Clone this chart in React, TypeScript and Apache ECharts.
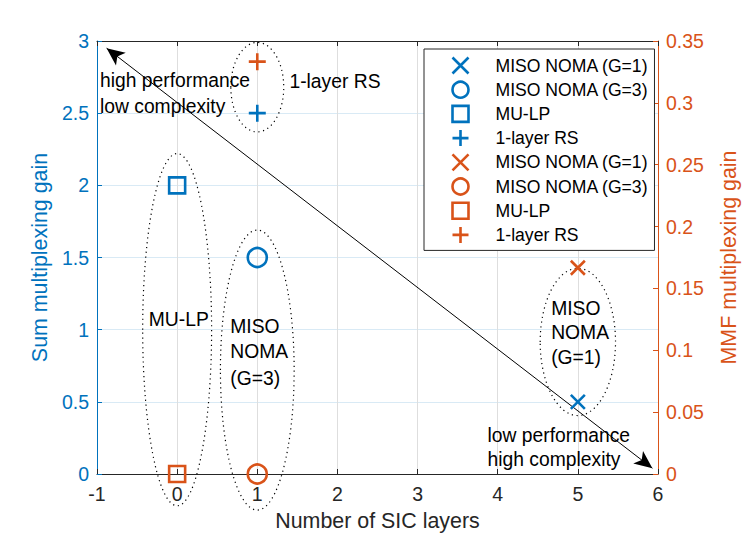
import React, { useEffect, useRef } from 'react';
import * as echarts from 'echarts';

// ---- data ----
const seriesNames = ['MISO NOMA (G=1)', 'MISO NOMA (G=3)', 'MU-LP', '1-layer RS'];
const sicLayers = [5, 1, 0, 1];
const sumGain = [0.5, 1.5, 2, 2.5];
const mmfGain = [0.1667, 0, 0, 0.3333];

// ---- annotations (data units of x / left y axis) ----
const ellipseCenters = [[0, 1.0], [1, 0.72], [1, 2.68], [5, 0.915]];
const ellipseRadii = [[0.43, 1.22], [0.46, 0.97], [0.33, 0.31], [0.47, 0.51]];
const noteTexts = ['high performance', 'low complexity', '1-layer RS', 'MU-LP', 'MISO', 'NOMA', '(G=3)', 'MISO', 'NOMA', '(G=1)', 'low performance', 'high complexity'];
const noteAnchors = [[-0.963, 2.723], [-0.963, 2.543], [1.401, 2.716], [-0.354, 1.067], [0.663, 1.021], [0.663, 0.847], [0.663, 0.665], [4.667, 1.15], [4.667, 0.977], [4.667, 0.804], [3.873, 0.27], [3.873, 0.097]];
const arrowStart = [-0.88, 2.95];
const arrowEnd = [5.93, 0.04];

const BLUE = '#0072BD';
const ORANGE = '#D95319';
const AXIS = '#262626';
const FONT = '"Liberation Sans", Arial, Helvetica, sans-serif';

const X_PATH = 'path://M0,0L10,10M10,0L0,10';
const PLUS_PATH = 'path://M5,0L5,10M0,5L10,5';
const SQUARE_PATH = 'path://M0,0L10,0L10,10L0,10Z';
const symbols = [X_PATH, 'circle', SQUARE_PATH, PLUS_PATH];
const symbolSizes = [14, 19, 16, 17];

export default function App() {
  const ref = useRef<HTMLDivElement>(null);

  useEffect(() => {
    if (!ref.current) return;
    const chart = echarts.init(ref.current, undefined, { renderer: 'svg' });

    const mkSeries = (group: 'sum' | 'mmf') =>
      seriesNames.map((n, i) => ({
        type: 'scatter',
        name: group + '|' + n,
        yAxisIndex: group === 'sum' ? 0 : 1,
        symbol: symbols[i],
        symbolSize: symbolSizes[i],
        symbolKeepAspect: true,
        itemStyle: {
          color: 'none',
          borderColor: group === 'sum' ? BLUE : ORANGE,
          borderWidth: 2.6,
          opacity: 1,
        },
        emphasis: { disabled: true },
        data: [[sicLayers[i], group === 'sum' ? sumGain[i] : mmfGain[i]]],
        z: 5,
      }));

    const series: any[] = [...mkSeries('sum'), ...mkSeries('mmf')];
    series[0].markLine = {
      silent: true,
      animation: false,
      symbol: ['arrow', 'arrow'],
      symbolSize: [12, 18],
      lineStyle: { color: '#000', width: 1, type: 'solid' },
      label: { show: false },
      emphasis: { disabled: true },
      data: [[{ coord: arrowStart }, { coord: arrowEnd }]],
    };

    const legendData = [
      ...seriesNames.map((n, i) => ({
        name: 'sum|' + n,
        icon: symbols[i],
        itemStyle: { color: 'none', borderColor: BLUE, borderWidth: 2.6 },
      })),
      ...seriesNames.map((n, i) => ({
        name: 'mmf|' + n,
        icon: symbols[i],
        itemStyle: { color: 'none', borderColor: ORANGE, borderWidth: 2.6 },
      })),
    ];

    const option: any = {
      animation: false,
      textStyle: { fontFamily: FONT },
      grid: { left: 97, right: 83, top: 41, bottom: 63, containLabel: false },
      legend: {
        orient: 'vertical',
        left: 424,
        top: 49,
        padding: [6, 6, 5, 26],
        itemWidth: 60,
        itemHeight: 16,
        itemGap: 3.2,
        symbolKeepAspect: true,
        backgroundColor: '#fff',
        borderColor: AXIS,
        borderWidth: 1,
        borderRadius: 0,
        selectedMode: false,
        data: legendData,
        formatter: (name: string) => name.split('|')[1],
        textStyle: { color: '#000', fontSize: 17.6, fontFamily: FONT },
      },
      xAxis: [
        {
          type: 'value',
          position: 'bottom',
          min: -1,
          max: 6,
          interval: 1,
          name: 'Number of SIC layers',
          nameLocation: 'middle',
          nameGap: 36,
          nameTextStyle: { color: AXIS, fontSize: 21.4, fontFamily: FONT },
          axisLine: { show: true, onZero: false, lineStyle: { color: AXIS, width: 1 } },
          axisTick: { show: true, inside: true, length: 5, lineStyle: { color: AXIS } },
          axisLabel: { color: AXIS, fontSize: 19.5, margin: 10, fontFamily: FONT },
          splitLine: { show: true, lineStyle: { color: '#dedede', width: 1 } },
        },
        {
          type: 'value',
          position: 'top',
          min: -1,
          max: 6,
          interval: 1,
          axisLine: { show: true, onZero: false, lineStyle: { color: AXIS, width: 1 } },
          axisTick: { show: true, inside: true, length: 5, lineStyle: { color: AXIS } },
          axisLabel: { show: false },
          splitLine: { show: false },
        },
      ],
      yAxis: [
        {
          type: 'value',
          position: 'left',
          min: 0,
          max: 3,
          interval: 0.5,
          name: 'Sum multiplexing gain',
          nameLocation: 'middle',
          nameGap: 45,
          nameTextStyle: { color: BLUE, fontSize: 21.4, fontFamily: FONT },
          axisLine: { show: true, onZero: false, lineStyle: { color: BLUE, width: 1 } },
          axisTick: { show: true, inside: true, length: 5, lineStyle: { color: BLUE } },
          axisLabel: { color: BLUE, fontSize: 19.5, margin: 8, fontFamily: FONT },
          splitLine: { show: true, lineStyle: { color: '#d9eaf5', width: 1 } },
        },
        {
          type: 'value',
          position: 'right',
          min: 0,
          max: 0.35,
          interval: 0.05,
          name: 'MMF multiplexing gain',
          nameLocation: 'middle',
          nameGap: 60,
          nameTextStyle: { color: ORANGE, fontSize: 21.4, fontFamily: FONT },
          axisLine: { show: true, onZero: false, lineStyle: { color: ORANGE, width: 1 } },
          axisTick: { show: true, inside: true, length: 5, lineStyle: { color: ORANGE } },
          axisLabel: { color: ORANGE, fontSize: 19.5, margin: 8, fontFamily: FONT },
          splitLine: { show: false },
        },
      ],
      series,
    };

    chart.setOption(option);

    const toPx = (p: number[]) =>
      chart.convertToPixel({ xAxisIndex: 0, yAxisIndex: 0 } as any, p) as number[];

    const graphics: any[] = [];
    ellipseCenters.forEach((c, i) => {
      const pc = toPx(c);
      const pr = toPx([c[0] + ellipseRadii[i][0], c[1] + ellipseRadii[i][1]]);
      graphics.push({
        type: 'ellipse',
        silent: true,
        z: 1,
        shape: { cx: pc[0], cy: pc[1], rx: Math.abs(pr[0] - pc[0]), ry: Math.abs(pc[1] - pr[1]) },
        style: { fill: 'none', stroke: '#000', lineWidth: 1.2, lineDash: [1.2, 3.6] },
      });
    });
    noteTexts.forEach((t, i) => {
      const p = toPx(noteAnchors[i]);
      graphics.push({
        type: 'text',
        silent: true,
        z: 10,
        x: p[0],
        y: p[1],
        style: {
          text: t,
          fill: '#000',
          fontSize: 19.3,
          fontFamily: FONT,
          align: 'left',
          verticalAlign: 'middle',
          textAlign: 'left',
          textVerticalAlign: 'middle',
        },
      });
    });
    chart.setOption({ graphic: graphics });

    return () => chart.dispose();
  }, []);

  return (
    <div
      ref={ref}
      style={{ position: 'fixed', left: 0, top: 0, width: 747, height: 537, background: '#fff' }}
    />
  );
}
